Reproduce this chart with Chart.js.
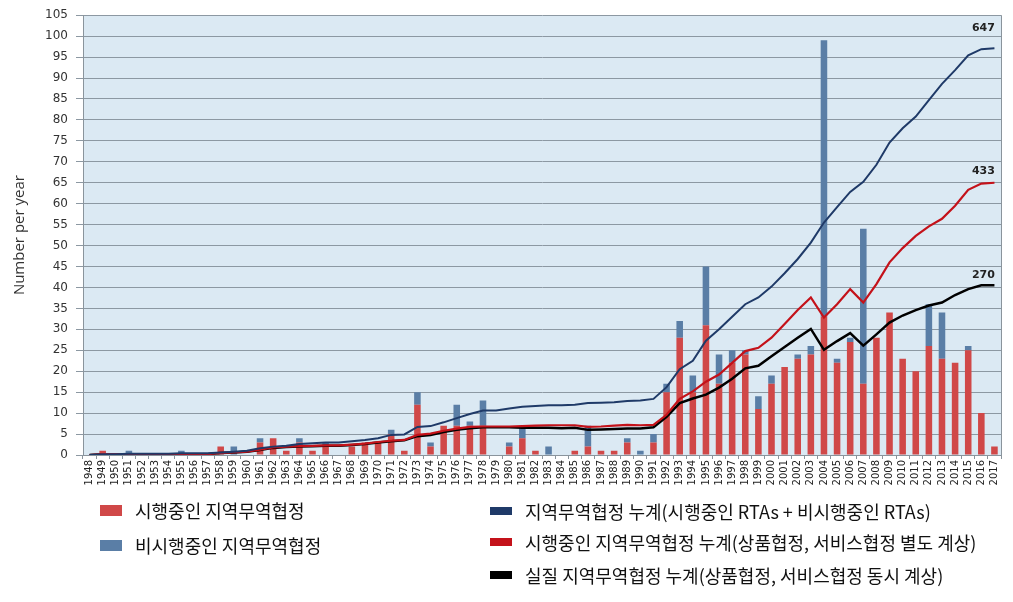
<!DOCTYPE html>
<html>
<head>
<meta charset="utf-8">
<script src="https://cdn.jsdelivr.net/npm/chart.js@4.4.1/dist/chart.umd.min.js"></script>
<style>
  body { margin: 0; background: #fff; }
  #wrap { position: relative; width: 1013px; height: 602px; }
  #legend { position: absolute; left: 0; top: 0; width: 1013px; height: 602px; pointer-events: none;
            font-family: 'Noto Sans CJK KR', sans-serif; font-size: 18px; color: #111; }
  .item { position: absolute; display: flex; align-items: center; white-space: nowrap; height: 24px; }
  .swatch { display: inline-block; width: 22px; margin-right: 13px; }
</style>
</head>
<body>
<div id="wrap">
  <canvas id="chart"></canvas>
  <div id="legend"></div>
</div>
<script>
const years = ['1948','1949','1950','1951','1952','1953','1954','1955','1956','1957',
  '1958','1959','1960','1961','1962','1963','1964','1965','1966','1967',
  '1968','1969','1970','1971','1972','1973','1974','1975','1976','1977',
  '1978','1979','1980','1981','1982','1983','1984','1985','1986','1987',
  '1988','1989','1990','1991','1992','1993','1994','1995','1996','1997',
  '1998','1999','2000','2001','2002','2003','2004','2005','2006','2007',
  '2008','2009','2010','2011','2012','2013','2014','2015','2016','2017'];

// yearly notifications, in force / not in force
const inForce = [0,1,0,0,0,0,0,0,0,0,
  2,0,0,3,4,1,3,1,2,0,
  2,3,3,5,1,12,2,7,7,7,
  7,0,2,4,1,0,0,1,2,1,
  1,3,0,3,15,28,15,31,17,22,
  24,11,17,21,23,24,33,22,27,17,
  28,34,23,20,26,23,22,25,10,2];
const notInForce = [0,0,0,1,0,0,0,1,0,0,
  0,2,0,1,0,0,1,0,1,0,
  0,0,0,1,0,3,1,0,5,1,
  6,0,1,3,0,2,0,0,5,0,
  0,1,1,2,2,4,4,14,7,3,
  1,3,2,0,1,2,66,1,1,37,
  0,0,0,0,10,11,0,1,0,0];

// cumulative lines (drawn on the same axis, scaled)
const cumTotal = [0,0.2,0.2,0.3,0.3,0.3,0.3,0.4,0.4,0.4,
  0.6,0.8,1.0,1.6,2.0,2.2,2.6,2.8,3.0,3.0,
  3.3,3.6,4.0,4.8,4.9,6.7,6.9,7.8,8.8,9.8,
  10.6,10.6,11.1,11.5,11.7,11.9,11.9,12.0,12.4,12.5,
  12.6,12.9,13.0,13.4,16.2,20.5,22.5,27.3,30.0,33.0,
  36.0,37.6,40.2,43.4,46.8,50.7,55.5,59.2,62.8,65.2,
  69.3,74.6,78.0,80.8,84.7,88.6,91.9,95.4,96.9,97.1];
const cumInForce = [0,0.2,0.2,0.2,0.2,0.2,0.2,0.2,0.2,0.2,
  0.5,0.6,0.8,1.3,1.8,2.0,2.1,2.2,2.3,2.3,
  2.5,2.7,3.1,3.4,3.6,4.8,5.1,5.8,6.3,6.7,
  6.8,6.8,6.8,6.9,7.0,7.1,7.1,7.1,6.7,6.8,
  7.0,7.2,7.1,7.2,9.6,13.4,15.2,17.5,19.2,22.0,
  24.8,25.6,28.0,31.3,34.6,37.6,32.8,36.0,39.6,36.4,
  40.8,46.0,49.4,52.3,54.6,56.4,59.5,63.3,64.8,65.0];
const cumPhysical = [0,0.2,0.2,0.2,0.2,0.2,0.2,0.2,0.2,0.2,
  0.5,0.6,0.8,1.2,1.7,1.9,2.0,2.1,2.2,2.2,
  2.4,2.6,3.0,3.3,3.5,4.5,4.8,5.5,6.0,6.4,
  6.6,6.6,6.6,6.5,6.5,6.5,6.4,6.5,6.0,6.1,
  6.2,6.3,6.3,6.6,9.1,12.4,13.5,14.4,16.1,18.2,
  20.7,21.3,23.6,25.8,28.0,30.1,25.1,27.2,29.1,26.1,
  28.8,31.6,33.3,34.6,35.7,36.4,38.2,39.6,40.5,40.5];

const endLabels = ['647', '433', '270'];
const seriesNames = [
  '시행중인 지역무역협정',
  '비시행중인 지역무역협정',
  '지역무역협정 누계(시행중인 RTAs + 비시행중인 RTAs)',
  '시행중인 지역무역협정 누계(상품협정, 서비스협정 별도 계상)',
  '실질 지역무역협정 누계(상품협정, 서비스협정 동시 계상)'
];

const RED_BAR = '#d04848';
const BLUE_BAR = '#5a7ea6';
const NAVY = '#1f3a68';
const RED_LINE = '#c4121a';
const BLACK = '#000000';

const plotBg = {
  id: 'plotBg',
  beforeDraw(chart) {
    const { ctx, chartArea: a } = chart;
    ctx.save();
    ctx.fillStyle = '#dbe9f3';
    ctx.fillRect(a.left, a.top, a.right - a.left, a.bottom - a.top);
    ctx.restore();
  },
  afterDraw(chart) {
    const { ctx, chartArea: a } = chart;
    ctx.save();
    ctx.strokeStyle = '#8a949c';
    ctx.lineWidth = 1;
    ctx.beginPath();
    ctx.moveTo(a.right + 0.5, a.top);
    ctx.lineTo(a.right + 0.5, a.bottom);
    ctx.stroke();
    ctx.restore();
  }
};

// totals written above the end of each cumulative line
const endLabelPlugin = {
  id: 'endLabels',
  afterDatasetsDraw(chart) {
    const ctx = chart.ctx;
    chart.data.datasets.forEach((ds, i) => {
      if (!ds.endLabel) return;
      const meta = chart.getDatasetMeta(i);
      const pt = meta.data[meta.data.length - 1];
      ctx.save();
      ctx.font = 'bold 11px "DejaVu Sans"';
      ctx.fillStyle = '#222';
      ctx.textAlign = 'center';
      ctx.textBaseline = 'middle';
      ctx.fillText(ds.endLabel, pt.x - 11, pt.y - ds.endLabelGap);
      ctx.restore();
    });
  }
};

function lineSet(label, data, color, width, stack, endLabel, gap) {
  return {
    type: 'line', label, data, stack, order: 0,
    borderColor: color, backgroundColor: color, borderWidth: width,
    pointRadius: 0, tension: 0, fill: false,
    endLabel, endLabelGap: gap
  };
}

new Chart(document.getElementById('chart'), {
  type: 'bar',
  data: {
    labels: years,
    datasets: [
      lineSet(seriesNames[2], cumTotal, NAVY, 2, 'l1', endLabels[0], 20),
      lineSet(seriesNames[3], cumInForce, RED_LINE, 2.2, 'l2', endLabels[1], 12),
      lineSet(seriesNames[4], cumPhysical, BLACK, 2.5, 'l3', endLabels[2], 10),
      { label: seriesNames[0], data: inForce, backgroundColor: RED_BAR, stack: 'bars', order: 1,
        barPercentage: 0.5, categoryPercentage: 1 },
      { label: seriesNames[1], data: notInForce, backgroundColor: BLUE_BAR, stack: 'bars', order: 1,
        barPercentage: 0.5, categoryPercentage: 1 }
    ]
  },
  options: {
    responsive: true,
    maintainAspectRatio: false,
    animation: false,
    layout: { padding: { left: 0, right: 12, top: 13, bottom: 107 } },
    plugins: { legend: { display: false }, tooltip: { enabled: false } },
    scales: {
      x: {
        stacked: true,
        afterFit: s => { s.height = 40; },
        grid: { drawOnChartArea: false, tickLength: 4, color: '#8a949c' },
        border: { color: '#8a949c' },
        ticks: {
          autoSkip: false, minRotation: 90, maxRotation: 90, padding: 1,
          color: '#222', font: { family: 'DejaVu Sans', size: 10 }
        }
      },
      y: {
        stacked: true,
        min: 0, max: 105,
        afterFit: s => { s.width = 83; },
        grid: { color: '#8c98a2', tickLength: 7 },
        border: { color: '#8a949c' },
        ticks: {
          stepSize: 5, padding: 8, color: '#333',
          font: { family: 'DejaVu Sans', size: 12 }
        },
        title: {
          display: true, text: 'Number per year', color: '#333',
          font: { family: 'Open Sans', size: 15 },
          padding: { top: 11, bottom: 0 }
        }
      }
    }
  },
  plugins: [plotBg, endLabelPlugin]
});

// legend laid out in two columns like the original
const legendSpots = [
  { name: seriesNames[0], color: RED_BAR, h: 11, x: 100, y: 498 },
  { name: seriesNames[1], color: BLUE_BAR, h: 11, x: 100, y: 533 },
  { name: seriesNames[2], color: NAVY, h: 8, x: 490, y: 499 },
  { name: seriesNames[3], color: RED_LINE, h: 8, x: 490, y: 530 },
  { name: seriesNames[4], color: BLACK, h: 8, x: 490, y: 563 }
];
const legend = document.getElementById('legend');
legendSpots.forEach(l => {
  const item = document.createElement('div');
  item.className = 'item';
  item.style.left = l.x + 'px';
  item.style.top = l.y + 'px';
  const sw = document.createElement('span');
  sw.className = 'swatch';
  sw.style.height = l.h + 'px';
  sw.style.background = l.color;
  const txt = document.createElement('span');
  txt.textContent = l.name;
  item.appendChild(sw);
  item.appendChild(txt);
  legend.appendChild(item);
});
</script>
</body>
</html>
